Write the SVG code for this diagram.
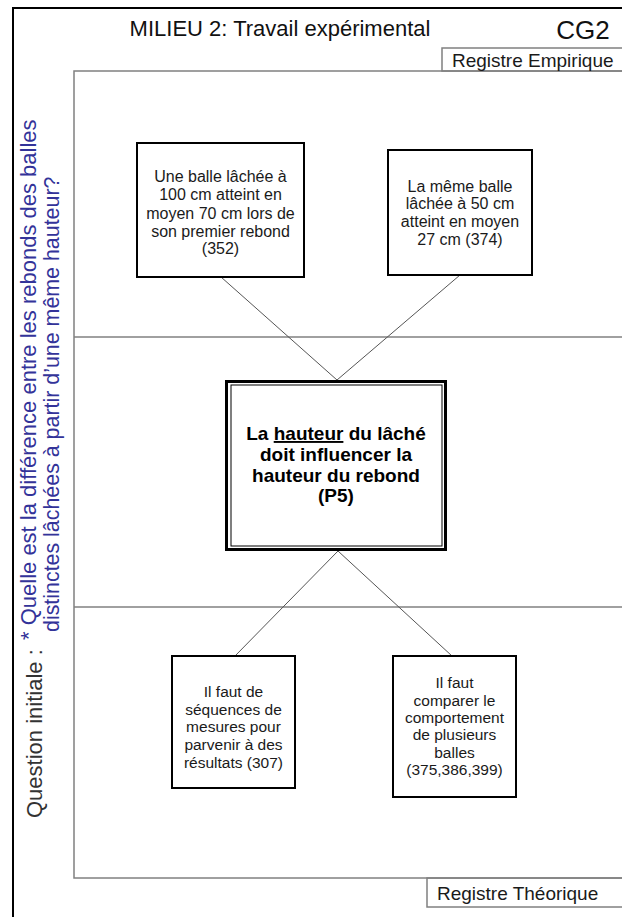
<svg xmlns="http://www.w3.org/2000/svg" width="622" height="917" viewBox="0 0 622 917">
<style>
.t{font-family:"Liberation Sans",Arial,sans-serif;fill:#1a1a1a;text-anchor:middle}
.s{font-size:16px}
.u{font-size:15.5px}
.b{font-size:19px;font-weight:bold;fill:#000}
.q{font-size:22px;text-anchor:start}
.box{fill:#fff;stroke:#000;stroke-width:2}
.gl{stroke:#808080;stroke-width:1.5;fill:none}
.con{stroke:#555;stroke-width:1;fill:none}
</style>
<rect x="0" y="0" width="622" height="917" fill="#fff"/>
<g id="frame">
<rect x="13" y="8" width="640" height="950" fill="none" stroke="#000" stroke-width="2"/>
<rect x="74" y="71" width="560" height="807" class="gl"/>
<line x1="74" y1="337" x2="622" y2="337" class="gl"/>
<line x1="74" y1="607" x2="622" y2="607" class="gl"/>
<rect x="442" y="48" width="200" height="23" fill="#fff" class="gl"/>
<rect x="427" y="878" width="215" height="29" fill="#fff" class="gl"/>
<text x="280" y="36" class="t" style="font-size:22px;fill:#111">MILIEU 2: Travail expérimental</text>
<text x="583" y="39" class="t" style="font-size:26px;fill:#111">CG2</text>
<text x="452" y="67" class="t" style="font-size:19px;text-anchor:start">Registre Empirique</text>
<text x="437" y="900" class="t" style="font-size:19px;text-anchor:start">Registre Théorique</text>
</g>
<g id="question">
<text transform="translate(42,818) rotate(-90)" class="t q" style="fill:#333">Question initiale :</text>
<text transform="translate(36,640) rotate(-90)" class="t q" style="fill:#333399">* Quelle est la différence entre les rebonds des balles</text>
<text transform="translate(59,632) rotate(-90)" class="t q" style="fill:#333399;font-size:21.4px">distinctes lâchées à partir d’une même hauteur?</text>
</g>
<g id="connectors">
<line x1="221" y1="277" x2="337" y2="380" class="con"/>
<line x1="460" y1="275" x2="337" y2="380" class="con"/>
<line x1="338" y1="551" x2="235" y2="656" class="con"/>
<line x1="338" y1="551" x2="452" y2="656" class="con"/>
</g>
<g id="n1">
<rect x="137" y="143" width="167" height="134" class="box"/>
<text class="t s" x="220.5" y="182">Une balle lâchée à</text>
<text class="t s" x="220.5" y="200">100 cm atteint en</text>
<text class="t s" x="220.5" y="219">moyen 70 cm lors de</text>
<text class="t s" x="220.5" y="237">son premier rebond</text>
<text class="t s" x="220.5" y="254">(352)</text>
</g>
<g id="n2">
<rect x="388" y="150" width="144" height="125" class="box"/>
<text class="t s" x="460" y="192">La même balle</text>
<text class="t s" x="460" y="209">lâchée à 50 cm</text>
<text class="t s" x="460" y="227">atteint en moyen</text>
<text class="t s" x="460" y="245">27 cm (374)</text>
</g>
<g id="p5">
<rect x="226.5" y="381.5" width="219" height="168" fill="#fff" stroke="#000" stroke-width="3"/>
<rect x="231" y="385" width="211" height="161" fill="none" stroke="#000" stroke-width="1"/>
<text class="t b" x="336" y="440">La <tspan text-decoration="underline">hauteur</tspan> du lâché</text>
<text class="t b" x="336" y="461">doit influencer la</text>
<text class="t b" x="336" y="482">hauteur du rebond</text>
<text class="t b" x="336" y="502">(P5)</text>
</g>
<g id="n3">
<rect x="172" y="656" width="123" height="132" class="box"/>
<text class="t u" x="233.5" y="697">Il faut de</text>
<text class="t u" x="233.5" y="715">séquences de</text>
<text class="t u" x="233.5" y="732">mesures pour</text>
<text class="t u" x="233.5" y="750">parvenir à des</text>
<text class="t u" x="233.5" y="768">résultats (307)</text>
</g>
<g id="n4">
<rect x="393" y="656" width="123" height="141" class="box"/>
<text class="t u" x="454.5" y="688">Il faut</text>
<text class="t u" x="454.5" y="706">comparer le</text>
<text class="t u" x="454.5" y="723">comportement</text>
<text class="t u" x="454.5" y="740">de plusieurs</text>
<text class="t u" x="454.5" y="758">balles</text>
<text class="t u" x="454.5" y="775">(375,386,399)</text>
</g>
</svg>
